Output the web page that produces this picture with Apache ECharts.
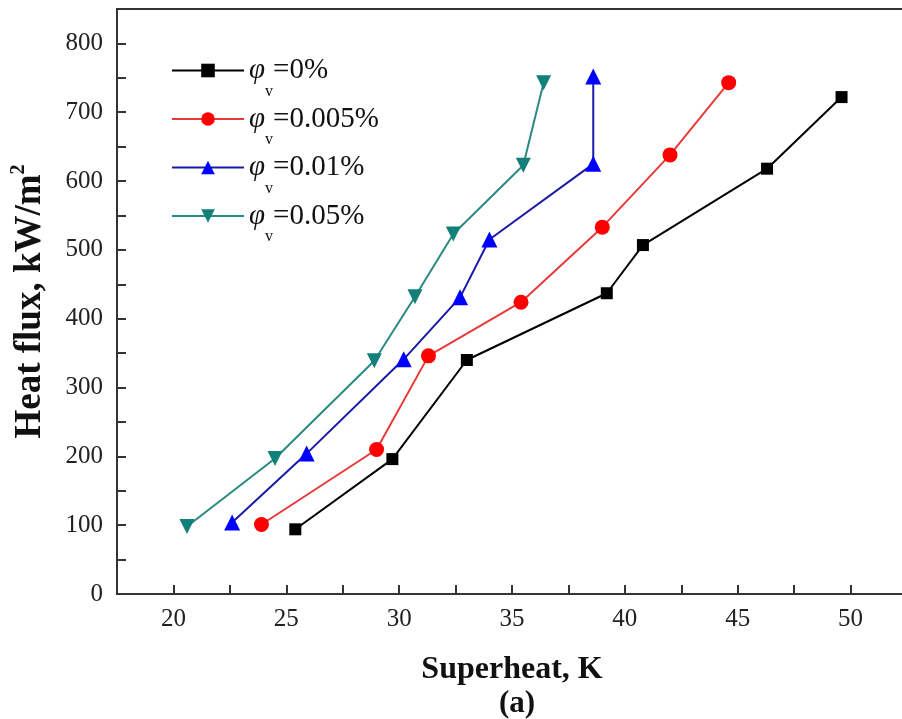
<!DOCTYPE html>
<html>
<head>
<meta charset="utf-8">
<script src="https://cdn.jsdelivr.net/npm/echarts@6/dist/echarts.min.js"></script>
<style>
  html, body { margin: 0; padding: 0; background: #fff; }
  #chart { width: 902px; height: 719px; }
</style>
</head>
<body>
<div id="chart"></div>
<script>
// Boiling curves: heat flux vs. wall superheat for several nanofluid volume fractions
const seriesNames = ['0%', '0.005%', '0.01%', '0.05%'];
const superheat0   = [25.4, 29.7, 33.0, 39.2, 40.8, 46.3, 49.6];
const flux0        = [94, 196, 340, 437, 507, 618, 722];
const superheat005 = [23.9, 29.0, 31.3, 35.4, 39.0, 42.0, 44.6];
const flux005      = [101, 210, 346, 424, 533, 638, 743];
const superheat01  = [22.6, 25.9, 30.2, 32.7, 34.0, 38.6, 38.6];
const flux01       = [104, 204, 341, 431, 515, 625, 752];
const superheat05  = [20.6, 24.5, 28.9, 30.7, 32.4, 35.5, 36.4];
const flux05       = [98, 197, 339, 432, 523, 623, 743];

const xTicks = [20, 25, 30, 35, 40, 45, 50];
const yTicks = [0, 100, 200, 300, 400, 500, 600, 700, 800];

const serif = '"Liberation Serif", "Times New Roman", serif';

function pairs(xs, ys) { return xs.map((x, i) => [x, ys[i]]); }

const styles = [
  { symbol: 'rect', size: 12, marker: '#000000', line: '#000000' },
  { symbol: 'circle', size: 15, marker: '#ff0000', line: '#e83a3a' },
  { symbol: 'triangle', size: 16, marker: '#0000ff', line: '#1a1aa8' },
  { symbol: 'path://M0,0 L10,0 L5,9 Z', size: 15, marker: '#11807a', line: '#2a8a82' }
];
const dataSets = [
  pairs(superheat0, flux0),
  pairs(superheat005, flux005),
  pairs(superheat01, flux01),
  pairs(superheat05, flux05)
];

const chart = echarts.init(document.getElementById('chart'), null, { renderer: 'canvas' });

chart.setOption({
  backgroundColor: '#ffffff',
  animation: false,
  title: {
    text: '(a)',
    left: 494,
    top: 683,
    textStyle: { fontFamily: serif, fontWeight: 'bold', fontSize: 31, color: '#111' }
  },
  grid: {
    left: 117, right: -5, top: 9, bottom: 125,
    outerBoundsMode: 'none',
    containLabel: false,
    show: true, borderColor: '#333', borderWidth: 2, backgroundColor: 'transparent'
  },
  legend: {
    orient: 'vertical',
    left: 166,
    top: 51,
    itemWidth: 72,
    itemHeight: 17,
    itemGap: 5,
    data: seriesNames.map(n => 'φv=' + n),
    formatter: function (name) {
      return '{phi|φ}{sub|v}{t|' + name.slice(2) + '}';
    },
    textStyle: {
      fontFamily: serif,
      color: '#111',
      rich: {
        phi: { fontFamily: serif, fontStyle: 'italic', fontSize: 29, color: '#111', lineHeight: 34, verticalAlign: 'middle' },
        sub: { fontFamily: serif, fontSize: 16, color: '#111', lineHeight: 34, verticalAlign: 'bottom', padding: [0, 0, -12, 0] },
        t: { fontFamily: serif, fontSize: 29, color: '#111', lineHeight: 34, verticalAlign: 'middle' }
      }
    }
  },
  xAxis: {
    type: 'value',
    min: 17.5,
    max: 52.5,
    interval: 2.5,
    name: 'Superheat, K',
    nameLocation: 'middle',
    nameGap: 60,
    nameTextStyle: { fontFamily: serif, fontWeight: 'bold', fontSize: 32, color: '#111' },
    axisLine: { show: true, onZero: false, lineStyle: { color: '#333', width: 2 } },
    axisTick: { show: true, inside: true, length: 9, lineStyle: { color: '#333', width: 2 } },
    splitLine: { show: false },
    axisLabel: {
      fontFamily: serif, fontSize: 25, color: '#222', margin: 13,
      formatter: function (v) { return xTicks.indexOf(v) >= 0 ? String(v) : ''; }
    }
  },
  yAxis: {
    type: 'value',
    min: 0,
    max: 850,
    interval: 50,
    name: '{b|Heat flux, kW/m}{s|2}',
    nameLocation: 'middle',
    nameGap: 68,
    nameRotate: 90,
    nameTextStyle: {
      rich: {
        b: { fontFamily: serif, fontWeight: 'bold', fontSize: 37, color: '#111', lineHeight: 40, verticalAlign: 'bottom' },
        s: { fontFamily: serif, fontWeight: 'bold', fontSize: 20, color: '#111', lineHeight: 40, verticalAlign: 'top' }
      }
    },
    axisLine: { show: true, onZero: false, lineStyle: { color: '#333', width: 2 } },
    axisTick: { show: true, inside: true, length: 9, lineStyle: { color: '#333', width: 2 } },
    splitLine: { show: false },
    axisLabel: {
      fontFamily: serif, fontSize: 25, color: '#222', margin: 14,
      formatter: function (v) { return yTicks.indexOf(v) >= 0 ? String(v) : ''; }
    }
  },
  series: dataSets.map((d, i) => ({
    name: 'φv=' + seriesNames[i],
    type: 'line',
    data: d,
    symbol: styles[i].symbol,
    symbolSize: styles[i].size,
    showAllSymbol: true,
    itemStyle: { color: styles[i].marker },
    lineStyle: { color: styles[i].line, width: 2 },
    z: 10 - i
  }))
});
</script>
</body>
</html>
